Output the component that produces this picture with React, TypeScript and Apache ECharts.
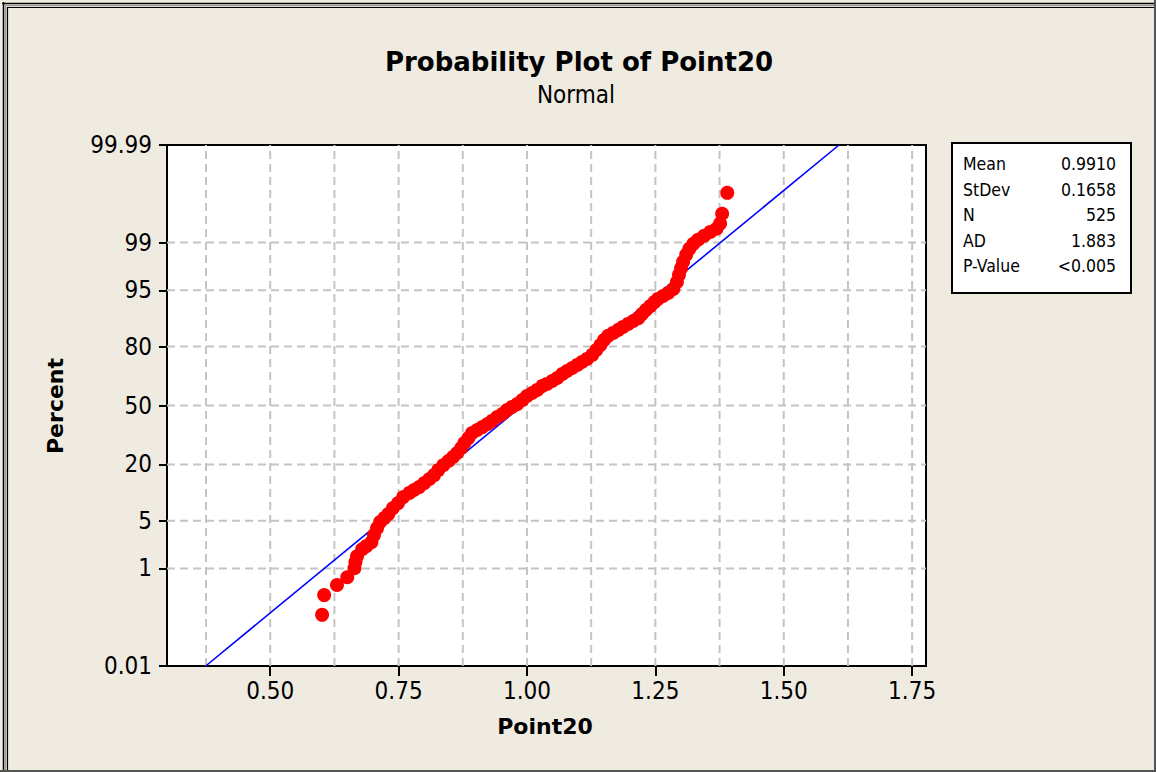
import React, { useEffect, useRef } from "react";
import * as echarts from "echarts";

// Sorted sample values (Point20) and their plotted cumulative percents
const dataValues = [
  0.601, 0.605, 0.630, 0.650, 0.664, 0.666, 0.669, 0.679, 0.687, 0.697,
  0.702, 0.708, 0.714, 0.722, 0.730, 0.739, 0.749, 0.759, 0.771, 0.780,
  0.790, 0.800, 0.810, 0.819, 0.827, 0.837, 0.847, 0.856, 0.864, 0.872,
  0.878, 0.886, 0.893, 0.903, 0.913, 0.923, 0.932, 0.942, 0.952, 0.961,
  0.971, 0.981, 0.991, 1.000, 1.010, 1.020, 1.030, 1.039, 1.049, 1.059,
  1.069, 1.078, 1.088, 1.098, 1.107, 1.117, 1.127, 1.135, 1.143, 1.150,
  1.158, 1.168, 1.178, 1.187, 1.197, 1.207, 1.217, 1.224, 1.232, 1.240,
  1.248, 1.255, 1.265, 1.275, 1.285, 1.292, 1.296, 1.300, 1.304, 1.310,
  1.316, 1.324, 1.333, 1.345, 1.357, 1.369, 1.376, 1.380, 1.390,
];
const dataPercents = [
  0.14, 0.34, 0.52, 0.71, 1.01, 1.27, 1.57, 2.01, 2.23, 2.55,
  3.21, 4.0, 4.8, 5.39, 6.05, 7.15, 8.17, 9.55, 10.6, 11.4,
  12.2, 13.4, 14.7, 16.0, 17.8, 19.7, 21.4, 23.1, 24.9, 27.2,
  29.6, 32.1, 34.7, 36.3, 37.9, 39.6, 41.3, 43.5, 45.2, 47.4,
  49.2, 50.8, 53.1, 55.4, 57.1, 58.8, 61.0, 62.1, 63.7, 65.3,
  67.4, 68.9, 70.4, 71.9, 73.3, 74.7, 76.5, 78.6, 80.6, 82.5,
  84.0, 85.0, 86.0, 86.9, 87.8, 88.6, 89.4, 90.4, 91.4, 92.2,
  93.0, 93.6, 94.1, 94.6, 95.2, 96.1, 96.9, 97.5, 97.99, 98.43,
  98.73, 98.95, 99.10, 99.23, 99.34, 99.42, 99.53, 99.69, 99.88,
];

const percentTicks = [0.01, 1, 5, 20, 50, 80, 95, 99, 99.99];
const percentTickLabels = ["0.01", "1", "5", "20", "50", "80", "95", "99", "99.99"];
const percentGridLines = [1, 5, 20, 50, 80, 95, 99];
const xTicks = [0.5, 0.75, 1.0, 1.25, 1.5, 1.75];
const xTickLabels = ["0.50", "0.75", "1.00", "1.25", "1.50", "1.75"];
const xGridLines = [0.375, 0.5, 0.625, 0.75, 0.875, 1.0, 1.125, 1.25, 1.375, 1.5, 1.625, 1.75];
const xRange = [0.299, 1.777];

const statLabels = ["Mean", "StDev", "N", "AD", "P-Value"];
const statValues = ["0.9910", "0.1658", "525", "1.883", "<0.005"];

const titleText = "Probability Plot of Point20";
const subtitleText = "Normal";
const xAxisTitle = "Point20";
const yAxisTitle = "Percent";

function probit(p: number): number {
  const a = [-3.969683028665376e1, 2.209460984245205e2, -2.759285104469687e2, 1.38357751867269e2, -3.066479806614716e1, 2.506628277459239];
  const b = [-5.447609879822406e1, 1.615858368580409e2, -1.556989798598866e2, 6.680131188771972e1, -1.328068155288572e1];
  const c = [-7.784894002430293e-3, -3.223964580411365e-1, -2.400758277161838, -2.549732539343734, 4.374664141464968, 2.938163982698783];
  const d = [7.784695709041462e-3, 3.224671290700398e-1, 2.445134137142996, 3.754408661907416];
  const plow = 0.02425;
  const phigh = 1 - plow;
  if (p < plow) {
    const q = Math.sqrt(-2 * Math.log(p));
    return (((((c[0] * q + c[1]) * q + c[2]) * q + c[3]) * q + c[4]) * q + c[5]) / ((((d[0] * q + d[1]) * q + d[2]) * q + d[3]) * q + 1);
  }
  if (p <= phigh) {
    const q = p - 0.5;
    const r = q * q;
    return ((((((a[0] * r + a[1]) * r + a[2]) * r + a[3]) * r + a[4]) * r + a[5]) * q) / (((((b[0] * r + b[1]) * r + b[2]) * r + b[3]) * r + b[4]) * r + 1);
  }
  const q = Math.sqrt(-2 * Math.log(1 - p));
  return -(((((c[0] * q + c[1]) * q + c[2]) * q + c[3]) * q + c[4]) * q + c[5]) / ((((d[0] * q + d[1]) * q + d[2]) * q + d[3]) * q + 1);
}

const FONT = '"DejaVu Sans Condensed", "DejaVu Sans", sans-serif';
const FONT_BOLD = '"DejaVu Sans", sans-serif';

export default function App() {
  const ref = useRef<HTMLDivElement>(null);

  useEffect(() => {
    if (!ref.current) return;
    const chart = echarts.init(ref.current, null, { renderer: "svg" });

    const zMin = probit(percentTicks[0] / 100);
    const zMax = probit(percentTicks[percentTicks.length - 1] / 100);
    const zTicks = percentTicks.map((p) => probit(p / 100));
    const mean = parseFloat(statValues[0]);
    const sd = parseFloat(statValues[1]);

    const gridStyle = { color: "#C4C4C4", width: 2, type: [8, 5] as any };

    const gridSeries: any[] = [];
    percentGridLines.forEach((p) => {
      const z = probit(p / 100);
      gridSeries.push({
        type: "line",
        data: [[xRange[0], z], [xRange[1], z]],
        symbol: "none",
        silent: true,
        lineStyle: gridStyle,
        z: 1,
      });
    });
    xGridLines.forEach((x) => {
      gridSeries.push({
        type: "line",
        data: [[x, zMin], [x, zMax]],
        symbol: "none",
        silent: true,
        lineStyle: gridStyle,
        z: 1,
      });
    });

    const gLeft = 167;
    const gTop = 145;
    const gRight = 926;
    const gBottom = 666;

    const boxX = 952;
    const boxY = 143;
    const boxW = 179;
    const boxH = 150;
    const rowY0 = 164;
    const rowStep = 25.6;

    const statTexts: any[] = [];
    statLabels.forEach((lab, i) => {
      statTexts.push({
        type: "text",
        x: 963,
        y: rowY0 + i * rowStep,
        style: { text: lab, font: `17.5px ${FONT}`, fill: "#000", textAlign: "left", textVerticalAlign: "middle" },
      });
      statTexts.push({
        type: "text",
        x: 1116,
        y: rowY0 + i * rowStep,
        style: { text: statValues[i], font: `17.5px ${FONT}`, fill: "#000", textAlign: "right", textVerticalAlign: "middle" },
      });
    });

    chart.setOption({
      animation: false,
      backgroundColor: "#EFEBE1",
      grid: {
        left: gLeft,
        top: gTop,
        right: 1156 - gRight,
        bottom: 772 - gBottom,
        show: true,
        backgroundColor: "#FFFFFF",
        borderColor: "#000",
        borderWidth: 2,
        z: 0,
      },
      xAxis: {
        type: "value",
        min: xRange[0],
        max: xRange[1],
        axisLine: { show: true, onZero: false, lineStyle: { color: "#000", width: 2 } },
        axisTick: { show: true, customValues: xTicks, length: 10, lineStyle: { color: "#000", width: 2 } },
        axisLabel: {
          customValues: xTicks,
          formatter: (v: number) => {
            const i = xTicks.findIndex((t) => Math.abs(t - v) < 1e-9);
            return i >= 0 ? xTickLabels[i] : "";
          },
          color: "#000",
          fontFamily: FONT,
          fontSize: 24,
          margin: 13,
        },
        splitLine: { show: false },
      },
      yAxis: {
        type: "value",
        min: zMin,
        max: zMax,
        axisLine: { show: true, onZero: false, lineStyle: { color: "#000", width: 2 } },
        axisTick: { show: true, customValues: zTicks, length: 8, lineStyle: { color: "#000", width: 2 } },
        axisLabel: {
          customValues: zTicks,
          formatter: (v: number) => {
            const i = zTicks.findIndex((t) => Math.abs(t - v) < 1e-6);
            return i >= 0 ? percentTickLabels[i] : "";
          },
          color: "#000",
          fontFamily: FONT,
          fontSize: 24,
          margin: 15,
        },
        splitLine: { show: false },
      },
      series: [
        ...gridSeries,
        {
          type: "line",
          data: [[mean + zMin * sd, zMin], [mean + zMax * sd, zMax]],
          symbol: "none",
          silent: true,
          lineStyle: { color: "#0000FF", width: 1.6 },
          z: 2,
        },
        {
          type: "scatter",
          data: dataValues.map((x, i) => [x, probit(dataPercents[i] / 100)]),
          symbol: "circle",
          symbolSize: 14,
          itemStyle: { color: "#FF0000", opacity: 1 },
          z: 3,
        },
      ],
      graphic: [
        // window frame
        { type: "line", shape: { x1: 2, y1: 3.5, x2: 1156, y2: 3.5 }, style: { stroke: "#000", lineWidth: 1.5 } },
        { type: "line", shape: { x1: 3.5, y1: 2, x2: 3.5, y2: 772 }, style: { stroke: "#000", lineWidth: 1.5 } },
        { type: "line", shape: { x1: 5, y1: 5.5, x2: 1156, y2: 5.5 }, style: { stroke: "#9A9A9A", lineWidth: 1.5 } },
        { type: "line", shape: { x1: 5.5, y1: 5, x2: 5.5, y2: 772 }, style: { stroke: "#9A9A9A", lineWidth: 1.5 } },
        { type: "line", shape: { x1: 7, y1: 7.5, x2: 1156, y2: 7.5 }, style: { stroke: "#000", lineWidth: 1.2 } },
        { type: "line", shape: { x1: 7.5, y1: 7, x2: 7.5, y2: 772 }, style: { stroke: "#000", lineWidth: 1.2 } },
        { type: "line", shape: { x1: 1155, y1: 0, x2: 1155, y2: 772 }, style: { stroke: "#555", lineWidth: 2 } },
        { type: "line", shape: { x1: 0, y1: 771, x2: 1156, y2: 771 }, style: { stroke: "#555", lineWidth: 2 } },
        // titles
        {
          type: "text",
          x: 579,
          y: 62,
          style: { text: titleText, font: `bold 26px ${FONT_BOLD}`, fill: "#000", textAlign: "center", textVerticalAlign: "middle" },
        },
        {
          type: "text",
          x: 576,
          y: 95,
          style: { text: subtitleText, font: `24px ${FONT}`, fill: "#000", textAlign: "center", textVerticalAlign: "middle" },
        },
        {
          type: "text",
          x: 545,
          y: 726,
          style: { text: xAxisTitle, font: `bold 22px ${FONT_BOLD}`, fill: "#000", textAlign: "center", textVerticalAlign: "middle" },
        },
        {
          type: "text",
          x: 55,
          y: 406,
          rotation: Math.PI / 2,
          style: { text: yAxisTitle, font: `bold 22px ${FONT_BOLD}`, fill: "#000", textAlign: "center", textVerticalAlign: "middle" },
        },
        // stats box
        {
          type: "rect",
          shape: { x: boxX, y: boxY, width: boxW, height: boxH },
          style: { fill: "#FFFFFF", stroke: "#000", lineWidth: 2 },
        },
        ...statTexts,
      ],
    });

    return () => chart.dispose();
  }, []);

  return <div ref={ref} style={{ position: "absolute", left: 0, top: 0, width: 1156, height: 772 }} />;
}
